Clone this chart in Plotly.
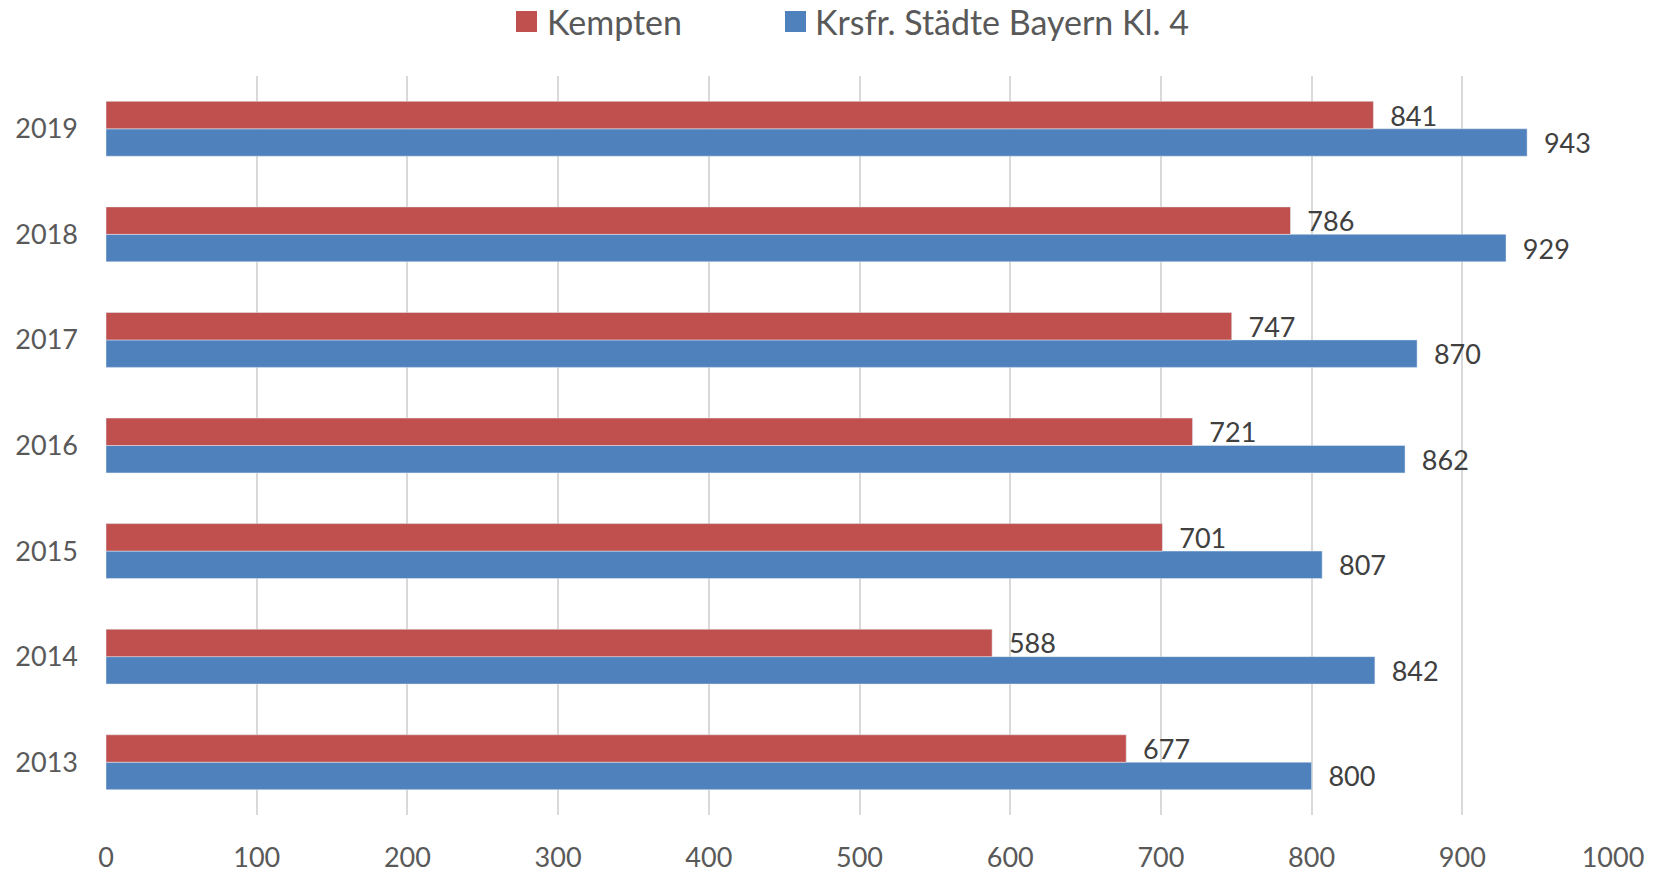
import plotly.graph_objects as go

years = ["2013", "2014", "2015", "2016", "2017", "2018", "2019"]
kempten = [677, 588, 701, 721, 747, 786, 841]
bayern = [800, 842, 807, 862, 870, 929, 943]
x_ticks = [0, 100, 200, 300, 400, 500, 600, 700, 800, 900, 1000]
series_names = ["Kempten", "Krsfr. Städte Bayern Kl. 4"]
series_colors = ["#C0504D", "#4F81BD"]

FONT = "Lato"
W, H = 1660, 872
ML, MR, MT, MB = 98, 55, 68, 65

fig = go.Figure()
fig.add_trace(go.Bar(
    y=years, x=bayern, orientation="h", name=series_names[1],
    marker=dict(color=series_colors[1]),
    text=["  " + str(v) for v in bayern], textposition="outside", constraintext="none",
    textfont=dict(family=FONT, size=27, color="#404040"), cliponaxis=False,
    showlegend=False,
))
fig.add_trace(go.Bar(
    y=years, x=kempten, orientation="h", name=series_names[0],
    marker=dict(color=series_colors[0]),
    text=["  " + str(v) for v in kempten], textposition="outside", constraintext="none",
    textfont=dict(family=FONT, size=27, color="#404040"), cliponaxis=False,
    showlegend=False,
))

# custom legend (pixel positions converted to paper coordinates)
pw, ph = W - ML - MR, H - MT - MB
def px_x(x):
    return (x - ML) / pw
def px_y(y):
    return 1 - (y - MT) / ph

legend_sq_x = [508, 777]
legend_txt_x = [538, 806]
sq = 21
for name, col, sx, tx in zip(series_names, series_colors, legend_sq_x, legend_txt_x):
    fig.add_shape(type="rect", xref="paper", yref="paper",
                  x0=px_x(sx), x1=px_x(sx + sq), y0=px_y(3 + sq), y1=px_y(3),
                  fillcolor=col, line=dict(width=0))
    fig.add_annotation(xref="paper", yref="paper", x=px_x(tx), y=px_y(14),
                       text=name, showarrow=False, xanchor="left", yanchor="middle",
                       borderpad=0,
                       font=dict(family=FONT, size=34, color="#595959"))

fig.update_layout(
    width=W, height=H,
    barmode="group", bargap=0.48, bargroupgap=0,
    plot_bgcolor="white", paper_bgcolor="white",
    margin=dict(l=ML, r=MR, t=MT, b=MB, autoexpand=False),
    font=dict(family=FONT, color="#595959"),
    showlegend=False,
)
fig.update_xaxes(range=[0, 1000], tickvals=x_ticks, showgrid=True, gridcolor="#D9D9D9",
                 gridwidth=2, zeroline=False, showline=False, automargin=False,
                 tickfont=dict(family=FONT, size=27, color="#595959"),
                 ticklabelstandoff=24, fixedrange=True)
fig.update_yaxes(type="category", categoryorder="array", categoryarray=years,
                 showgrid=False, showline=False, zeroline=False, automargin=False,
                 tickfont=dict(family=FONT, size=27, color="#595959"),
                 ticklabelstandoff=27)

fig.write_html("out.html")
